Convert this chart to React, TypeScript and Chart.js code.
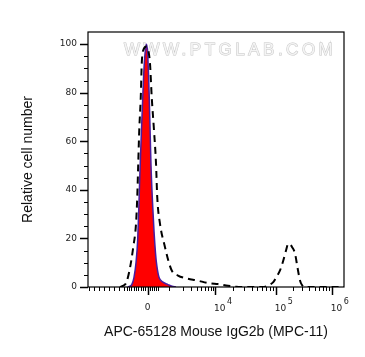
import React, { useEffect, useRef } from 'react';
import { Chart, registerables } from 'chart.js';

Chart.register(...registerables);

// Histogram bins: x = display channel on a 0–1024 biexponential axis, y = % of mode
const isotypeChannels = [160, 175, 184, 192, 199, 204, 208, 214, 219, 224, 230, 234, 238, 242, 245, 249, 252, 258, 264, 270, 275, 284, 300, 320, 336, 352];
const isotypeCounts = [0, 1, 4, 10, 20, 35, 48, 65, 78, 90, 98, 100, 97, 88, 78, 62, 50, 35, 23, 14, 9, 4, 2, 1, 0.3, 0];

const sampleChannels = [128, 140, 152, 161, 170, 181, 192, 197, 201, 205, 211, 215, 221, 234, 242, 248, 255, 264, 272, 277, 288, 308, 321, 335, 360, 395, 435, 488, 520, 560, 592, 628, 696, 715, 728, 741, 756, 768, 780, 792, 801, 808, 816, 828, 838, 848, 856, 868, 1024];
const sampleCounts = [0, 0.5, 1.5, 4.5, 9, 16.4, 26, 37, 51, 64.5, 78, 92, 97.5, 99, 97, 92, 78, 64.5, 51, 37, 26, 16.4, 11, 6.8, 4.7, 3.5, 2.7, 1.5, 1.2, 0.5, 0.1, 0, 0, 0.3, 1, 2, 4.5, 6.8, 10.5, 15, 17.8, 17.6, 16.5, 13.8, 8, 2.7, 0.8, 0, 0];

// Y axis ticks
const yTickValues = [0, 5, 10, 15, 20, 25, 30, 35, 40, 45, 50, 55, 60, 65, 70, 75, 80, 85, 90, 95, 100];
const yMajorValues = [0, 20, 40, 60, 80, 100];

// X axis ticks (fluorescence intensity)
const xMajorValues = [0, 1e4, 1e5, 1e6];
const xMajorBase = ['0', '10', '10', '10'];
const xMajorExp = ['', '4', '5', '6'];
const xMinorValues = [
  -8000, -7000, -6000, -5000, -4000, -3000, -2000, -1000,
  -900, -800, -700, -600, -500, -400, -300, -200, -100,
  100, 200, 300, 400, 500,
  1000, 2000, 3000, 4000, 5000, 6000, 7000, 8000, 9000,
  20000, 30000, 40000, 50000, 60000, 70000, 80000, 90000,
  200000, 300000, 400000, 500000, 600000, 700000, 800000, 900000,
];

// Biexponential display transform: intensity -> channel
const decadeValues = [1e3, 1e4, 1e5, 1e6];
const decadeChannels = [325, 508, 751, 975];
const zeroChannel = 238;
const negThousandChannel = 145;
const negSlope = 20 / 1000;

function toChannel(v: number): number {
  if (v >= 1000) {
    const lv = Math.log10(v);
    for (let i = 0; i < decadeValues.length - 1; i++) {
      const a = Math.log10(decadeValues[i]);
      const b = Math.log10(decadeValues[i + 1]);
      if (lv <= b || i === decadeValues.length - 2) {
        return decadeChannels[i] + ((lv - a) / (b - a)) * (decadeChannels[i + 1] - decadeChannels[i]);
      }
    }
  }
  if (v >= 0) return zeroChannel + (v / 1000) * (decadeChannels[0] - zeroChannel);
  if (v >= -1000) return zeroChannel + (v / 1000) * (zeroChannel - negThousandChannel);
  return negThousandChannel + (v + 1000) * negSlope;
}

const TICK_FONT = '"DejaVu Sans", Verdana, sans-serif';
const TITLE_FONT = '"Liberation Sans", Arial, sans-serif';

const framePlugin = {
  id: 'frame',
  beforeDatasetsDraw(chart: any) {
    const { ctx, chartArea } = chart;
    const { left, right, top } = chartArea;
    ctx.save();
    ctx.font = '17px "Liberation Sans", Arial, sans-serif';
    (ctx as any).letterSpacing = '3.5px';
    ctx.textAlign = 'center';
    ctx.textBaseline = 'middle';
    const cx = left + (right - left) * 0.555;
    const cy = top + 18;
    ctx.lineWidth = 1;
    ctx.strokeStyle = '#c6c6c6';
    ctx.strokeText('WWW.PTGLAB.COM', cx, cy);
    ctx.fillStyle = '#f4f4f4';
    ctx.fillText('WWW.PTGLAB.COM', cx, cy);
    ctx.restore();
  },
  afterDraw(chart: any) {
    const { ctx, chartArea, scales } = chart;
    const { left, right, top, bottom } = chartArea;
    const xs = scales.x;
    const ys = scales.y;
    ctx.save();
    ctx.strokeStyle = '#000';
    ctx.lineWidth = 1.2;
    ctx.strokeRect(left, top, right - left, bottom - top);

    // y ticks
    for (const v of yTickValues) {
      const y = Math.round(ys.getPixelForValue(v)) + 0.5;
      const major = yMajorValues.includes(v);
      const len = major ? 8 : 4;
      ctx.lineWidth = major ? 1.5 : 1;
      ctx.beginPath();
      ctx.moveTo(left - len, y);
      ctx.lineTo(left, y);
      ctx.stroke();
    }
    // x ticks
    const drawX = (v: number, len: number, lw: number) => {
      const x = xs.getPixelForValue(toChannel(v));
      if (x < left - 0.5 || x > right + 0.5) return;
      ctx.lineWidth = lw;
      ctx.beginPath();
      ctx.moveTo(Math.round(x) + 0.5, bottom);
      ctx.lineTo(Math.round(x) + 0.5, bottom + len);
      ctx.stroke();
    };
    for (const v of xMinorValues) drawX(v, 4, 1);
    for (const v of xMajorValues) drawX(v, 8, 1.5);

    // x labels
    ctx.fillStyle = '#222';
    ctx.textBaseline = 'alphabetic';
    xMajorValues.forEach((v, i) => {
      const x = xs.getPixelForValue(toChannel(v));
      if (!xMajorExp[i]) {
        ctx.font = `9px ${TICK_FONT}`;
        ctx.textAlign = 'center';
        ctx.fillText(xMajorBase[i], x, bottom + 23);
      } else {
        ctx.font = `9px ${TICK_FONT}`;
        ctx.textAlign = 'left';
        const bx = x - 1;
        ctx.fillText(xMajorBase[i], bx, bottom + 24);
        const w = ctx.measureText(xMajorBase[i]).width;
        ctx.font = `8px ${TICK_FONT}`;
        ctx.fillText(xMajorExp[i], bx + w + 1.5, bottom + 16.5);
      }
    });
    ctx.restore();
  },
};

export default function App() {
  const canvasRef = useRef<HTMLCanvasElement | null>(null);

  useEffect(() => {
    const canvas = canvasRef.current;
    if (!canvas) return;
    const chart = new Chart(canvas, {
      type: 'line',
      data: {
        datasets: [
          {
            label: 'APC-65128',
            data: sampleChannels.map((x, i) => ({ x, y: sampleCounts[i] })),
            borderColor: '#000000',
            borderWidth: 2,
            borderDash: [7, 5],
            fill: false,
            pointRadius: 0,
            cubicInterpolationMode: 'monotone',
            order: 0,
          },
          {
            label: 'Isotype',
            data: isotypeChannels.map((x, i) => ({ x, y: isotypeCounts[i] })),
            borderColor: '#4a1ca0',
            borderWidth: 1.5,
            backgroundColor: '#ff0000',
            fill: 'origin',
            pointRadius: 0,
            cubicInterpolationMode: 'monotone',
            order: 1,
          },
        ],
      },
      options: {
        animation: false,
        responsive: false,
        devicePixelRatio: 1,
        layout: { padding: { top: 32, right: 21, bottom: 0, left: 0 } },
        plugins: { legend: { display: false }, tooltip: { enabled: false } },
        scales: {
          x: {
            type: 'linear',
            min: 0,
            max: 1024,
            grid: { display: false, tickLength: 8 },
            border: { display: false },
            ticks: { display: false },
            title: {
              display: true,
              text: 'APC-65128 Mouse IgG2b (MPC-11)',
              color: '#111',
              font: { family: TITLE_FONT, size: 14 },
              padding: { top: 0, bottom: 16.6 },
            },
            afterFit: (s: any) => {
              s.height = 70;
            },
          },
          y: {
            type: 'linear',
            min: 0,
            max: 105,
            afterBuildTicks: (s: any) => {
              s.ticks = yTickValues.map((v) => ({ value: v }));
            },
            grid: { display: false, tickLength: 8 },
            border: { display: false },
            ticks: {
              autoSkip: false,
              padding: 3,
              color: '#222',
              font: { family: TICK_FONT, size: 9 },
              callback: (v: any) => (yMajorValues.includes(Number(v)) ? String(v) : ''),
            },
            title: {
              display: true,
              text: 'Relative cell number',
              color: '#111',
              font: { family: TITLE_FONT, size: 14 },
              padding: { top: 19.6, bottom: 0 },
            },
            afterFit: (s: any) => {
              s.width = 88;
            },
          },
        },
      },
      plugins: [framePlugin],
    } as any);
    return () => chart.destroy();
  }, []);

  return (
    <div style={{ position: 'fixed', left: 0, top: 0, width: 365, height: 357, background: '#fff' }}>
      <canvas ref={canvasRef} width={365} height={357} style={{ display: 'block' }} />
    </div>
  );
}
